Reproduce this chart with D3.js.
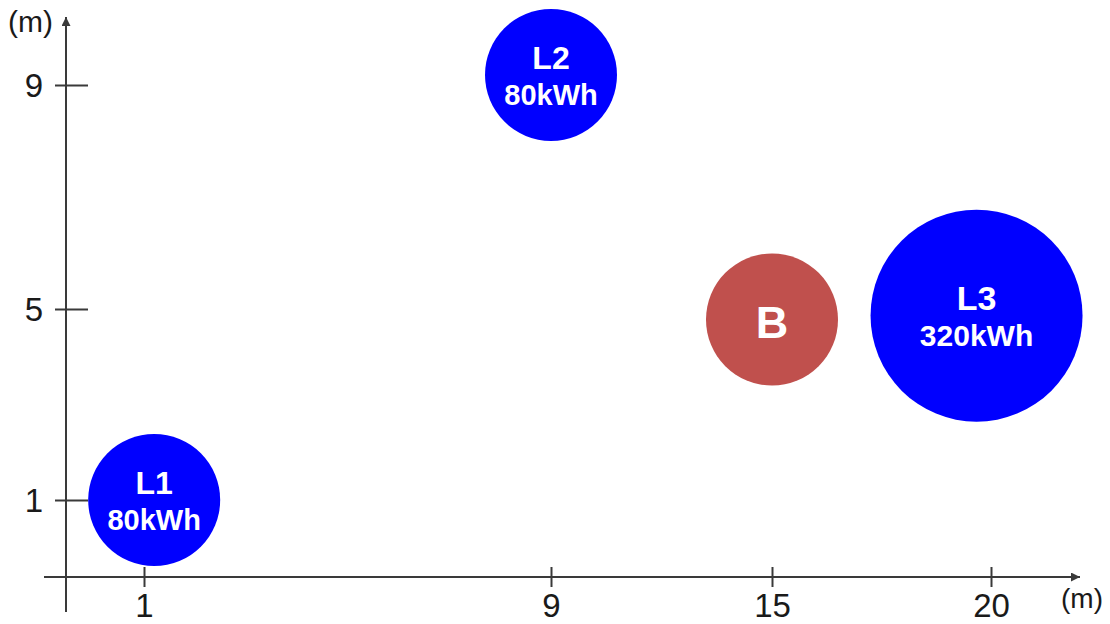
<!DOCTYPE html>
<html>
<head>
<meta charset="utf-8">
<script src="https://cdn.jsdelivr.net/npm/d3@7"></script>
<style>
  html, body { margin: 0; padding: 0; background: #fff; }
  svg { display: block; }
</style>
</head>
<body>
<svg id="chart" width="1110" height="624"></svg>
<script>
// ---- data ----
const names   = ["L1", "L2", "B", "L3"];
const xValues = [1.2, 9, 15, 19.67];
const yValues = [1, 9.18, 4.78, 4.86];
const energy  = [80, 80, null, 320];          // kWh (B has no label value)
const kinds   = ["load", "load", "source", "load"];
const xTicks  = [1, 9, 15, 20];
const yTicks  = [1, 5, 9];
const unitLabel = "(m)";

// ---- layout ----
const svg = d3.select("#chart");
const originX = 66, originY = 577;

// schematic (non-uniform) axes -> piecewise linear scales
const x = d3.scaleLinear().domain([1, 9, 15, 20]).range([144, 551, 772, 991]);
const y = d3.scaleLinear().domain([1, 5, 9]).range([500, 309, 85]);
const r = d3.scaleLinear().domain([80, 320]).range([66, 106]);
const color = d3.scaleOrdinal().domain(["load", "source"]).range(["#0000FF", "#C0504D"]);

const axisColor = "#3a3a3a";
const font = "'Liberation Sans', Arial, sans-serif";

// arrow marker
const defs = svg.append("defs");
defs.append("marker")
  .attr("id", "arrow")
  .attr("viewBox", "0 0 10 10")
  .attr("refX", 10).attr("refY", 5)
  .attr("markerWidth", 5.5).attr("markerHeight", 4.5)
  .attr("markerUnits", "strokeWidth")
  .attr("orient", "auto")
  .append("path")
  .attr("d", "M0,0 L10,5 L0,10 Z")
  .attr("fill", axisColor);

// axis lines
svg.append("line")
  .attr("x1", 44).attr("y1", originY).attr("x2", 1080).attr("y2", originY)
  .attr("stroke", axisColor).attr("stroke-width", 2)
  .attr("marker-end", "url(#arrow)");
svg.append("line")
  .attr("x1", originX).attr("y1", 612).attr("x2", originX).attr("y2", 17)
  .attr("stroke", axisColor).attr("stroke-width", 2)
  .attr("marker-end", "url(#arrow)");

// x axis ticks
const gx = svg.append("g")
  .attr("transform", `translate(0,${originY})`)
  .call(d3.axisBottom(x).tickValues(xTicks).tickSize(10).tickPadding(0).tickFormat(d3.format("d")));
gx.select(".domain").remove();
gx.selectAll(".tick line").attr("y1", -10).attr("y2", 10).attr("stroke", axisColor).attr("stroke-width", 2);
gx.selectAll(".tick text")
  .attr("y", 40).attr("dy", null)
  .attr("font-family", font).attr("font-size", 33).attr("fill", "#1a1a1a");

// y axis ticks
const gy = svg.append("g")
  .attr("transform", `translate(${originX},0)`)
  .call(d3.axisLeft(y).tickValues(yTicks).tickSize(11).tickPadding(0).tickFormat(d3.format("d")));
gy.select(".domain").remove();
gy.selectAll(".tick line").attr("x1", -11).attr("x2", 22).attr("stroke", axisColor).attr("stroke-width", 2);
gy.selectAll(".tick text")
  .attr("x", -23).attr("dy", "0.36em")
  .attr("font-family", font).attr("font-size", 33).attr("fill", "#1a1a1a");

// unit labels
svg.append("text").attr("x", 8).attr("y", 32)
  .attr("font-family", font).attr("font-size", 30).attr("fill", "#1a1a1a").text(unitLabel);
svg.append("text").attr("x", 1061).attr("y", 608)
  .attr("font-family", font).attr("font-size", 28).attr("fill", "#1a1a1a").text(unitLabel);

// bubbles
const data = names.map((n, i) => ({ name: n, x: xValues[i], y: yValues[i], e: energy[i], kind: kinds[i] }));
const g = svg.append("g").selectAll("g").data(data).join("g")
  .attr("transform", d => `translate(${x(d.x)},${y(d.y)})`);

g.append("circle")
  .attr("r", d => r(d.e == null ? 80 : d.e))
  .attr("fill", d => color(d.kind));

g.each(function(d) {
  const sel = d3.select(this);
  const big = d.e != null && d.e > 100;
  if (d.e == null) {
    sel.append("text").attr("text-anchor", "middle").attr("y", 18)
      .attr("font-family", font).attr("font-weight", "bold").attr("font-size", 45)
      .attr("fill", "#fff").text(d.name);
  } else {
    sel.append("text").attr("text-anchor", "middle").attr("y", -6)
      .attr("font-family", font).attr("font-weight", "bold").attr("font-size", big ? 34 : 32)
      .attr("fill", "#fff").text(d.name);
    sel.append("text").attr("text-anchor", "middle").attr("y", 30)
      .attr("font-family", font).attr("font-weight", "bold").attr("font-size", big ? 30 : 29)
      .attr("fill", "#fff").text(d.e + "kWh");
  }
});
</script>
</body>
</html>
